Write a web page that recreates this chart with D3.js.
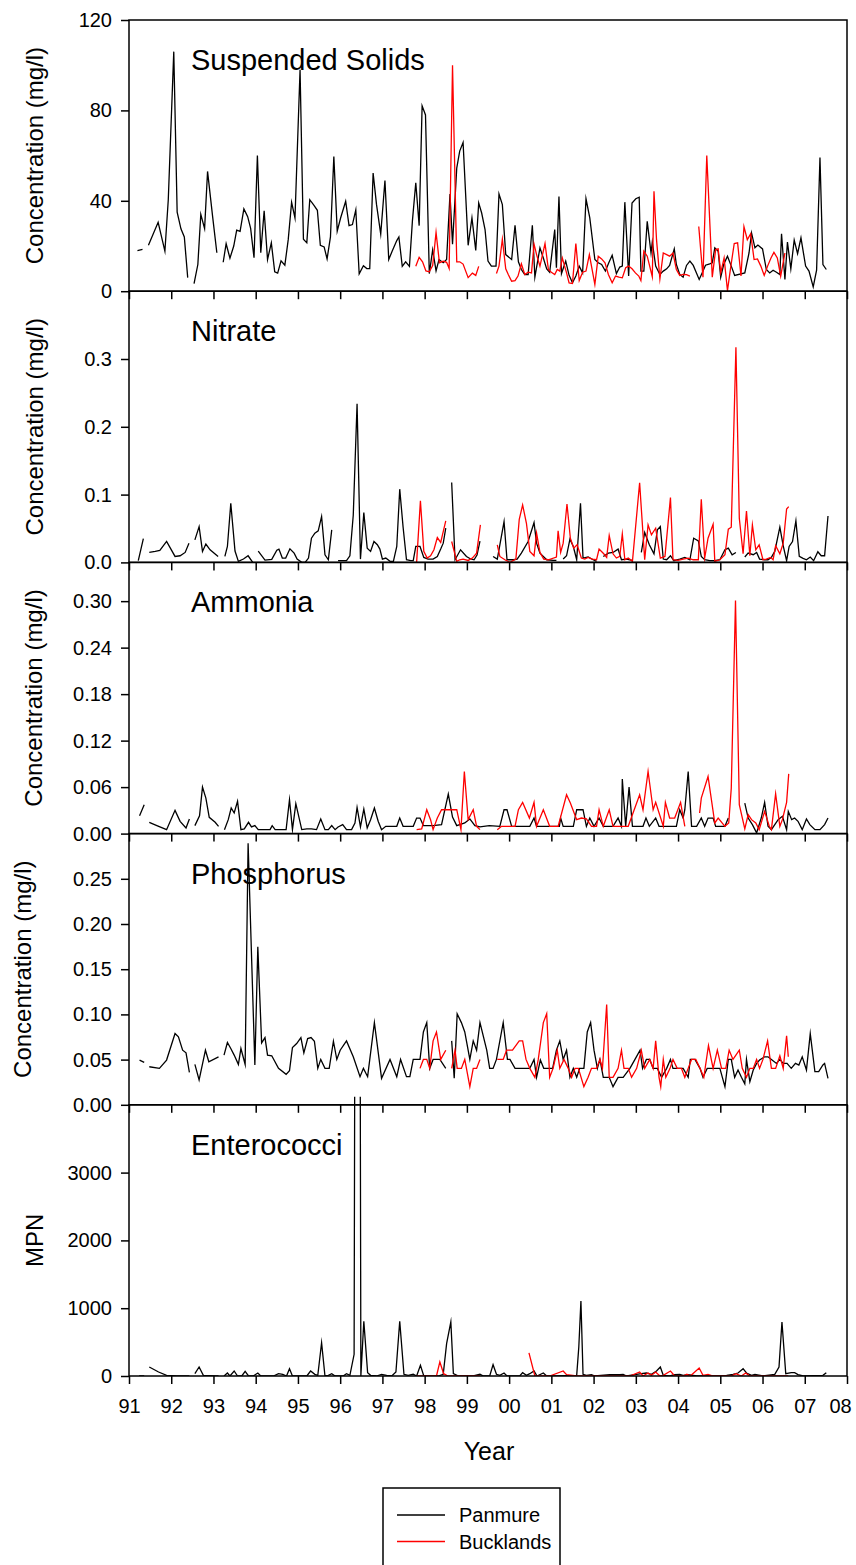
<!DOCTYPE html>
<html><head><meta charset="utf-8">
<script src="https://cdn.jsdelivr.net/npm/d3@7"></script>
<style>
html,body{margin:0;padding:0;background:#fff;}
svg{display:block;font-family:"Liberation Sans",Arial,sans-serif;}
</style></head>
<body>
<svg id="chart" width="856" height="1565"></svg>
<script>
// ---------------- DATA ----------------
const yearTicks = [1991,1992,1993,1994,1995,1996,1997,1998,1999,2000,2001,2002,2003,2004,2005,2006,2007,2008];
const yearLabels = ["91","92","93","94","95","96","97","98","99","00","01","02","03","04","05","06","07","08"];
const seriesNames = ["Panmure","Bucklands"];
const panelTitles = ["Suspended Solids","Nitrate","Ammonia","Phosphorus","Enterococci"];
const axisTitles = ["Concentration (mg/l)","Concentration (mg/l)","Concentration (mg/l)","Concentration (mg/l)","MPN"];
const yMaxima = [120, 0.4, 0.35, 0.30, 4000];
const yTickValues = [[0,40,80,120],[0,0.1,0.2,0.3],[0,0.06,0.12,0.18,0.24,0.30],[0,0.05,0.10,0.15,0.20,0.25],[0,1000,2000,3000]];
const yTickFormats = ["d",".1f",".2f",".2f","d"];

// [decimal year, value]; null = gap in record
const ssPanmure = [[1991.20,18],[1991.32,18.5],null,
[1991.46,20.3],[1991.69,30.5],[1991.85,17.7],[1991.93,40.5],[1992.06,106],[1992.14,35],[1992.23,27.6],[1992.31,24],[1992.39,6],null,
[1992.54,3.4],[1992.63,11.8],[1992.70,34],[1992.79,27.7],[1992.86,53],[1992.98,33],[1993.08,17],null,
[1993.23,12.8],[1993.30,21],[1993.39,14.6],[1993.48,20],[1993.55,27],[1993.63,26.5],[1993.72,36.4],[1993.81,33],[1993.88,27.8],[1993.96,14.8],[1994.04,60],[1994.12,17],[1994.20,35.6],[1994.28,14],[1994.37,21.4],[1994.45,8.6],[1994.52,8],[1994.60,13.4],[1994.69,11.5],[1994.77,22.8],[1994.85,39.3],[1994.93,32.4],[1995.05,98],[1995.13,23],[1995.21,21.4],[1995.28,40.5],[1995.38,38],[1995.46,35.8],[1995.53,20.3],[1995.62,19.6],[1995.69,14.3],[1995.77,24],[1995.85,59.6],[1995.93,26.6],[1996.01,32.4],[1996.13,39.8],[1996.21,29],[1996.29,29.5],[1996.37,36],[1996.45,7.7],[1996.55,11.3],[1996.63,10],[1996.70,10],[1996.78,52.3],[1996.86,38.4],[1996.96,25.3],[1997.06,49],[1997.15,14],[1997.23,17.7],[1997.34,22.4],[1997.39,24],[1997.47,11],[1997.55,13],[1997.64,11],[1997.71,31],[1997.79,48],[1997.87,29],[1997.94,82],[1998.02,78],[1998.11,7.8],[1998.19,18.3],[1998.27,9],[1998.34,14],[1998.44,12.6],[1998.52,14],[1998.60,43],[1998.66,20.8],[1998.76,54.5],[1998.83,62],[1998.91,65.8],[1999.03,20.3],[1999.12,32.4],[1999.21,18],[1999.28,39],[1999.35,34.6],[1999.43,27.3],[1999.50,13.3],[1999.58,11.1],[1999.69,11.1],[1999.76,43],[1999.84,38.3],[1999.92,16.2],[2000.06,14],[2000.14,29.2],[2000.22,13],[2000.29,9.6],[2000.37,7.4],[2000.45,7.4],[2000.55,29.2],[2000.61,6.2],[2000.73,19.2],[2000.81,14.7],[2000.89,9.9],[2000.96,8.4],[2001.08,27.3],[2001.12,10.4],[2001.18,41.9],[2001.24,7.8],[2001.34,13.3],[2001.42,7],[2001.50,3.7],[2001.58,6.7],[2001.66,11.1],[2001.74,8.1],[2001.82,40.9],[2001.91,32.4],[2002.03,14],[2002.11,12.6],[2002.19,11.8],[2002.28,8.9],[2002.36,12.6],[2002.44,15.9],[2002.54,7.8],[2002.62,10.7],[2002.68,11.1],[2002.74,39.4],[2002.83,6.7],[2002.91,39],[2003.00,40.9],[2003.08,41.6],[2003.12,8.9],[2003.19,8.9],[2003.27,30.9],[2003.36,16.9],[2003.39,21.7],[2003.47,11.1],[2003.57,7.4],[2003.65,8.9],[2003.73,9.9],[2003.80,11.4],[2003.91,18.7],[2003.96,11.8],[2004.04,7.4],[2004.12,6.2],[2004.20,11.4],[2004.28,13.3],[2004.36,11.4],[2004.50,5.2],[2004.57,8.1],[2004.65,11.5],[2004.75,12.1],[2004.81,12.6],[2004.87,19.2],[2004.95,17.7],[2005.01,6.2],[2005.08,11.8],[2005.17,15.5],[2005.26,11.1],[2005.34,7],[2005.58,8.1],[2005.68,16.9],[2005.74,25.8],[2005.82,19.2],[2005.89,20.4],[2006.00,18.7],[2006.09,9.6],[2006.17,8.1],[2006.25,9.3],[2006.33,8.4],[2006.41,7.4],[2006.45,25.4],[2006.53,5.2],[2006.59,21.7],[2006.67,9.9],[2006.75,22.6],[2006.83,16.6],[2006.91,23.6],[2007.02,11.1],[2007.10,8.9],[2007.20,1.9],[2007.28,9.3],[2007.36,59.2],[2007.43,11.8],[2007.51,9.6]];

const ssBucklands = [[1997.79,11],[1997.87,15],[1997.95,13],[1998.03,9],[1998.11,8.6],[1998.19,11.3],[1998.27,26],[1998.35,12.6],[1998.44,13.3],[1998.52,12.8],[1998.58,10],[1998.66,100],[1998.76,13],[1998.83,13],[1998.91,12],[1999.03,6],[1999.13,8],[1999.21,7],[1999.28,11],null,
[1999.70,7.8],[1999.76,11.1],[1999.84,23.0],[1999.92,9.9],[1999.98,7.4],[2000.06,4.4],[2000.14,4.7],[2000.21,6.7],[2000.29,12.1],[2000.37,7.4],[2000.45,8.4],[2000.53,8.1],[2000.59,20.9],[2000.65,16.2],[2000.73,11.1],[2000.85,21.1],[2000.93,9.6],[2001.00,8.4],[2001.08,7.4],[2001.14,9.6],[2001.20,8.9],[2001.26,14.7],[2001.36,8.1],[2001.42,3.7],[2001.50,3.4],[2001.58,21.1],[2001.66,4.7],[2001.74,8.4],[2001.82,8.9],[2001.90,16.2],[2002.03,3.0],[2002.11,15.5],[2002.19,14.3],[2002.27,12.6],[2002.35,7.4],[2002.44,3.7],[2002.52,6.7],[2002.60,6.2],[2002.68,5.9],[2002.76,10.4],[2002.83,11.1],[2002.91,9.9],[2002.99,8.1],[2003.07,6.7],[2003.12,4.7],[2003.19,17.7],[2003.27,15.5],[2003.39,6.4],[2003.43,44.2],[2003.49,22.8],[2003.57,5.4],[2003.65,16.9],[2003.73,16.2],[2003.80,15.5],[2003.88,16.9],[2003.96,9.6],[2004.04,7.0],[2004.12,7.4],[2004.20,7.3],[2004.28,6.7],null,
[2004.49,28.6],[2004.59,6.2],[2004.68,60],[2004.81,6.2],[2004.89,18.4],[2004.95,18.7],[2005.01,8.1],[2005.09,14.7],[2005.17,0.3],[2005.25,11.1],[2005.33,21.1],[2005.41,21.4],[2005.49,6.7],[2005.56,28.6],[2005.64,22.8],[2005.72,25.4],[2005.80,14.0],[2005.88,14.3],[2005.96,11.1],[2006.04,7.0],[2006.12,11.1],[2006.20,14.7],[2006.27,17.2],[2006.35,14.7],[2006.43,6.7],[2006.53,16.9]];

const no3Panmure = [[1991.22,0.0025],[1991.34,0.035],null,
[1991.48,0.0147],[1991.62,0.0162],[1991.73,0.0176],[1991.89,0.031],[1992.09,0.0088],[1992.21,0.0098],[1992.33,0.0147],[1992.42,0.0284],null,
[1992.56,0.0333],[1992.66,0.0528],[1992.74,0.0162],[1992.82,0.027],[1992.92,0.0186],[1993.11,0.0088],null,
[1993.27,0.0088],[1993.33,0.0235],[1993.41,0.0871],[1993.51,0.0167],[1993.59,0.0015],[1993.71,0.005],[1993.82,0.0098],[1993.93,0],null,
[1994.06,0.0167],[1994.22,0.0035],[1994.38,0.0045],[1994.50,0.0181],[1994.55,0.0196],[1994.63,0.0064],[1994.71,0.0064],[1994.81,0.0201],[1994.91,0.0137],[1994.98,0.0049],[1995.09,0],[1995.17,0],[1995.25,0.0064],[1995.32,0.0357],[1995.40,0.0431],[1995.48,0.0465],[1995.56,0.0676],[1995.64,0.0113],[1995.72,0.0039],[1995.80,0.048],null,
[1995.95,0.0025],[1996.15,0.0025],[1996.23,0.0098],[1996.31,0.07],[1996.40,0.2339],[1996.48,0.0049],[1996.56,0.0734],[1996.64,0.0211],[1996.72,0.0162],[1996.80,0.0308],[1996.88,0.026],[1996.94,0.0196],[1997.00,0.0049],[1997.08,0.0064],[1997.18,0.0015],[1997.26,0.0015],[1997.34,0.0235],[1997.41,0.108],[1997.49,0.0518],[1997.57,0.0039],[1997.67,0.0025],[1997.73,0.0025],[1997.79,0.0235],[1997.89,0.0235],[1997.98,0.0074],[1998.08,0.0049],[1998.20,0.0049],[1998.30,0.0088],[1998.38,0.0196],[1998.44,0.0284],[1998.50,0.0504],null,
[1998.64,0.1178],[1998.72,0.0039],[1998.85,0.0186],[1998.99,0.0088],[1999.09,0.005],[1999.17,0.0039],[1999.24,0.0108],[1999.31,0.0313],null,
[1999.62,0.0088],[1999.72,0.0049],[1999.88,0.0602],[1999.95,0.0039],[2000.10,0.0039],[2000.19,0.0049],[2000.29,0.0137],[2000.45,0.0308],[2000.59,0.0587],[2000.65,0.0284],[2000.73,0.0137],[2000.89,0.0039],[2001.04,0.0029],[2001.12,0.0029],null,
[2001.28,0.0049],[2001.36,0.0098],[2001.44,0.0343],[2001.52,0.0235],[2001.60,0.0039],[2001.69,0.0871],[2001.75,0.0064],[2001.87,0.0079],[2001.99,0.0039],[2002.07,0.0015],null,
[2002.23,0.0088],[2002.35,0.0137],[2002.46,0.0147],[2002.58,0.0196],[2002.66,0.0039],[2002.78,0.0049],[2002.92,0.0029],null,
[2003.13,0.0147],[2003.21,0.0441],[2003.32,0.0259],[2003.43,0.0127],[2003.51,0.048],[2003.58,0.0529],[2003.65,0.0049],[2003.73,0.0039],[2003.82,0.0098],[2003.90,0.0025],[2004.04,0.0049],[2004.16,0.0074],[2004.28,0.0039],[2004.37,0.0357],[2004.48,0.0318],[2004.55,0.0088],[2004.63,0.0039],[2004.75,0.0025],[2004.87,0.0025],[2004.99,0.0039],[2005.11,0.0186],[2005.19,0.0211],[2005.28,0.0113],[2005.37,0.0147],null,
[2005.58,0.0079],[2005.66,0.0137],[2005.78,0.0113],[2005.86,0.0147],[2005.93,0.0049],[2006.05,0.0039],[2006.13,0.0039],[2006.21,0.0074],[2006.29,0.0162],[2006.41,0.0519],[2006.49,0.0245],[2006.57,0.0025],[2006.63,0.0235],[2006.71,0.0308],[2006.79,0.0612],[2006.87,0.0088],[2006.96,0.0059],[2007.04,0.0039],[2007.13,0.0079],[2007.21,0.0025],[2007.31,0.0157],[2007.39,0.0098],[2007.47,0.0098],[2007.55,0.0685]];

const no3Bucklands = [[1997.81,0],[1997.90,0.091],[1997.98,0.0162],[1998.06,0.0064],[1998.14,0.0098],[1998.22,0.0186],[1998.30,0.0367],[1998.38,0.0294],[1998.50,0.0611],null,
[1998.64,0.0308],[1998.76,0.0015],[1998.83,0.0039],[1998.91,0.0049],[1999.03,0.0029],[1999.13,0.0064],[1999.23,0.0137],[1999.32,0.0553],null,
[1999.72,0.026],[1999.78,0.0088],[1999.90,0.0039],[2000.02,0],[2000.16,0.0049],[2000.24,0.0636],[2000.32,0.0847],[2000.41,0.0577],[2000.49,0.0162],[2000.59,0.0098],[2000.65,0.0431],[2000.73,0.0147],[2000.82,0.0049],[2000.93,0.0039],[2001.12,0.0079],[2001.16,0.0466],[2001.22,0.0147],[2001.28,0.0284],[2001.37,0.0861],[2001.45,0.0357],[2001.53,0.0211],[2001.61,0.026],[2001.71,0.0064],[2001.79,0.0049],[2001.87,0.0074],[2001.97,0.0049],[2002.07,0.0039],[2002.13,0.0196],[2002.24,0.0127],[2002.31,0.0074],[2002.37,0.0397],[2002.46,0.0127],[2002.54,0.0064],[2002.62,0.0088],[2002.68,0.0421],[2002.74,0.0039],[2002.82,0.0064],[2002.92,0.0015],[2003.09,0.1174],[2003.21,0.0039],[2003.29,0.0553],[2003.37,0.0406],[2003.47,0.0504],[2003.58,0.0064],[2003.69,0.0088],[2003.82,0.0955],[2003.88,0.0039],[2004.00,0.0029],[2004.12,0.0049],[2004.24,0.0064],[2004.36,0.0039],[2004.48,0.0039],[2004.55,0.093],[2004.63,0.0064],[2004.71,0.0357],[2004.83,0.0563],[2004.87,0.0015],[2004.99,0.0039],[2005.11,0.0113],[2005.19,0.049],[2005.26,0.0519],[2005.37,0.3172],[2005.45,0.0651],[2005.54,0.0127],[2005.62,0.0759],[2005.70,0.0098],[2005.76,0.0553],[2005.84,0.0186],[2005.92,0.026],[2006.01,0.0039],[2006.09,0.0049],[2006.19,0.0074],[2006.25,0.0039],[2006.31,0.0245],[2006.41,0.0127],[2006.49,0.0284],[2006.57,0.0788],[2006.62,0.0822]];

const nh3Panmure = [[1991.25,0.0231],[1991.36,0.0373],null,
[1991.48,0.0146],[1991.66,0.0103],[1991.89,0.0051],[1992.09,0.03],[1992.21,0.0158],[1992.35,0.0073],[1992.43,0.0189],null,
[1992.56,0.0103],[1992.67,0.0231],[1992.74,0.06],[1992.82,0.0458],[1992.90,0.021],[1993.04,0.0146],[1993.12,0.0094],null,
[1993.26,0.0051],[1993.35,0.018],[1993.42,0.033],[1993.49,0.0266],[1993.57,0.0416],[1993.65,0.0051],[1993.73,0.006],[1993.83,0.0146],[1993.90,0.0086],[1993.98,0.0103],[1994.06,0.0051],[1994.34,0.0051],[1994.39,0.0103],[1994.46,0.0051],[1994.72,0.0051],[1994.80,0.0437],[1994.87,0.0051],[1994.95,0.0386],[1995.09,0.0051],[1995.21,0.006],[1995.32,0.006],[1995.44,0.0051],[1995.54,0.0189],[1995.64,0.0051],[1995.72,0.0051],[1995.80,0.0103],[1995.88,0.0051],[1995.95,0.0086],[1996.06,0.0116],[1996.15,0.0051],[1996.27,0.0051],[1996.35,0.0137],[1996.40,0.0338],[1996.48,0.0086],[1996.56,0.0317],[1996.64,0.0073],[1996.72,0.018],[1996.81,0.033],[1996.90,0.0159],[1996.98,0.0051],[1997.08,0.0094],[1997.34,0.0094],[1997.41,0.0201],[1997.49,0.0094],[1997.73,0.0094],[1997.81,0.0201],[1997.89,0.0201],[1997.97,0.0103],[1998.20,0.0103],[1998.40,0.0116],[1998.56,0.051],[1998.66,0.0214],[1998.76,0.0103],[1998.95,0.0137],[1999.07,0.0189],[1999.19,0.0103],[1999.31,0.0086],[1999.53,0.0103],[1999.78,0.0094],[1999.88,0.0308],[1999.95,0.0308],[2000.06,0.0094],[2000.49,0.0094],[2000.59,0.0201],[2000.65,0.0094],[2001.19,0.0094],[2001.22,0.0201],[2001.28,0.0094],[2001.52,0.0094],[2001.60,0.0308],[2001.75,0.0308],[2001.83,0.0094],[2001.91,0.0201],[2002.01,0.0094],[2002.13,0.0201],[2002.23,0.0094],[2002.46,0.0094],[2002.58,0.0201],[2002.66,0.0094],[2002.68,0.0703],[2002.76,0.0094],[2002.84,0.06],[2002.92,0.0094],[2003.17,0.0094],[2003.24,0.0201],[2003.32,0.0094],[2003.47,0.0201],[2003.55,0.0094],[2003.96,0.0094],[2004.04,0.0308],[2004.12,0.0201],[2004.16,0.0308],[2004.24,0.0801],[2004.32,0.0094],[2004.44,0.0094],[2004.55,0.0201],[2004.63,0.0094],[2004.71,0.0201],[2004.83,0.0201],[2004.89,0.0094],[2005.11,0.0094],[2005.19,0.0201],null,
[2005.58,0.0394],[2005.66,0.0201],[2005.76,0.0116],[2005.86,0.0009],[2005.97,0.0201],[2006.05,0.0403],[2006.13,0.0094],[2006.21,0.0051],[2006.29,0.0116],[2006.37,0.018],[2006.47,0.0223],[2006.57,0.0051],[2006.61,0.0287],[2006.69,0.018],[2006.76,0.0201],[2006.84,0.0159],[2006.94,0.0051],[2007.04,0.0189],[2007.12,0.0116],[2007.24,0.0051],[2007.36,0.0051],[2007.47,0.0116],[2007.55,0.0201]];

const nh3Bucklands = [[1997.81,0.0051],[1997.93,0.006],[1998.05,0.0308],[1998.14,0.018],[1998.20,0.0051],[1998.30,0.0201],[1998.40,0.0308],[1998.60,0.0308],[1998.76,0.0308],[1998.86,0.0051],[1998.94,0.0801],[1999.03,0.018],[1999.15,0.0308],[1999.23,0.0094],[1999.31,0.0051],null,
[1999.72,0.0051],[1999.82,0.0094],[2000.14,0.0094],[2000.22,0.0308],[2000.32,0.0403],[2000.48,0.0201],[2000.59,0.0403],[2000.65,0.0094],[2000.81,0.0308],[2000.96,0.0094],[2001.16,0.0094],[2001.36,0.0501],[2001.45,0.0394],[2001.60,0.018],[2001.71,0.0201],[2001.83,0.0189],[2001.95,0.0094],[2002.07,0.0094],[2002.13,0.0308],[2002.23,0.0094],[2002.37,0.0308],[2002.46,0.0094],[2002.82,0.0094],[2003.09,0.0501],[2003.17,0.0308],[2003.29,0.0801],[2003.41,0.0308],[2003.47,0.0403],[2003.65,0.0094],[2003.70,0.0403],[2003.80,0.0201],[2003.92,0.0201],[2004.06,0.0403],[2004.16,0.0094],null,
[2004.51,0.0266],[2004.55,0.0458],[2004.71,0.0737],[2004.87,0.0137],[2004.95,0.0201],[2005.11,0.0094],[2005.20,0.0137],[2005.26,0.0587],[2005.36,0.3007],[2005.45,0.0373],[2005.58,0.006],[2005.66,0.0244],[2005.74,0.018],[2005.84,0.0137],[2005.92,0.0051],[2006.05,0.0287],[2006.16,0.0094],[2006.21,0.0051],[2006.31,0.0514],[2006.41,0.0094],[2006.47,0.018],[2006.57,0.0403],[2006.62,0.0771]];

const tpPanmure = [[1991.25,0.0495],[1991.36,0.0469],null,
[1991.48,0.0421],[1991.72,0.0403],[1991.89,0.0495],[1992.09,0.0788],[1992.17,0.0751],[1992.27,0.0604],[1992.35,0.0575],[1992.43,0.0359],null,
[1992.56,0.0447],[1992.66,0.0275],[1992.81,0.0604],[1992.89,0.0476],[1993.12,0.0531],null,
[1993.25,0.055],[1993.33,0.0689],[1993.41,0.0623],[1993.49,0.055],[1993.59,0.0447],[1993.65,0.0623],[1993.75,0.0447],[1993.82,0.2894],[1993.98,0.044],[1994.05,0.1747],[1994.14,0.0685],[1994.22,0.0744],[1994.28,0.055],[1994.38,0.0542],[1994.54,0.0403],[1994.72,0.0337],[1994.80,0.0378],[1994.87,0.0634],[1994.97,0.0678],[1995.07,0.0744],[1995.14,0.0575],[1995.23,0.0733],[1995.31,0.0744],[1995.39,0.0703],[1995.47,0.0403],[1995.54,0.0502],[1995.64,0.0403],[1995.74,0.0403],[1995.84,0.0703],[1995.92,0.0502],[1996.00,0.0604],[1996.15,0.0707],[1996.31,0.0531],[1996.47,0.0311],[1996.55,0.0403],[1996.65,0.0311],[1996.81,0.0909],[1996.98,0.0293],[1997.18,0.0502],[1997.34,0.0311],[1997.43,0.0502],[1997.57,0.0311],[1997.65,0.0311],[1997.73,0.0502],[1997.89,0.0502],[1997.97,0.0806],[1998.05,0.0909],[1998.12,0.0403],[1998.20,0.0502],[1998.36,0.0502],[1998.50,0.0403],null,
[1998.64,0.0707],[1998.70,0.0293],[1998.77,0.1007],[1998.87,0.0909],[1998.95,0.0806],[1999.07,0.0502],[1999.15,0.0707],[1999.23,0.0604],[1999.31,0.0909],[1999.47,0.0604],[1999.54,0.0403],[1999.62,0.0403],[1999.70,0.0502],[1999.86,0.0909],[1999.96,0.0502],[2000.02,0.0502],[2000.14,0.0403],[2000.26,0.0403],[2000.49,0.0403],[2000.59,0.0502],[2000.65,0.0304],[2000.74,0.0495],[2000.82,0.0403],[2000.90,0.0403],[2001.03,0.0403],[2001.12,0.0604],[2001.20,0.0707],[2001.28,0.0502],[2001.36,0.0604],[2001.44,0.0304],[2001.52,0.0403],[2001.60,0.0304],[2001.67,0.0403],[2001.77,0.0403],[2001.85,0.0806],[2001.93,0.0909],[2002.01,0.0604],[2002.09,0.0403],[2002.15,0.0502],[2002.23,0.0304],[2002.37,0.0304],[2002.46,0.0201],[2002.58,0.0304],[2002.70,0.0304],[2002.86,0.0403],[2002.98,0.0502],[2003.10,0.0604],[2003.16,0.0403],[2003.25,0.0502],[2003.33,0.0502],[2003.41,0.0403],[2003.51,0.0403],[2003.61,0.0304],[2003.73,0.0403],[2003.82,0.0502],[2003.88,0.0403],[2003.96,0.0403],[2004.12,0.0403],[2004.24,0.0304],[2004.29,0.0502],[2004.40,0.0502],[2004.52,0.0403],[2004.59,0.0304],[2004.69,0.0403],[2004.79,0.0403],[2004.99,0.0403],[2005.11,0.0201],[2005.19,0.0502],[2005.26,0.0502],[2005.34,0.0304],[2005.42,0.0385],[2005.50,0.0304],[2005.58,0.0231],[2005.62,0.0502],[2005.70,0.0256],[2005.78,0.0385],[2005.86,0.0458],[2005.93,0.0495],[2006.05,0.0531],[2006.13,0.0531],[2006.21,0.0502],[2006.33,0.0458],[2006.41,0.0502],[2006.49,0.0458],[2006.58,0.0458],[2006.68,0.0403],[2006.78,0.0458],[2006.86,0.044],[2006.94,0.0531],[2007.04,0.0385],[2007.13,0.0788],[2007.24,0.0367],[2007.33,0.0367],[2007.43,0.044],[2007.47,0.0458],[2007.55,0.0293]];

const tpBucklands = [[1997.89,0.0403],[1997.97,0.0502],[1998.05,0.0502],[1998.12,0.0403],[1998.20,0.0707],[1998.28,0.0806],[1998.38,0.0502],[1998.50,0.0604],null,
[1998.64,0.0403],[1998.72,0.0604],[1998.77,0.0403],[1998.87,0.0403],[1998.95,0.0502],[1999.07,0.0201],[1999.15,0.0403],[1999.23,0.0403],[1999.31,0.0502],null,
[1999.72,0.0502],[1999.86,0.0502],[1999.94,0.0604],[2000.08,0.0604],[2000.24,0.0707],[2000.32,0.0707],[2000.40,0.0502],[2000.49,0.0403],[2000.61,0.0304],[2000.69,0.0502],[2000.81,0.0909],[2000.89,0.1007],[2000.96,0.0304],[2001.04,0.0403],[2001.14,0.0604],[2001.20,0.0403],[2001.30,0.0502],[2001.40,0.0403],[2001.48,0.0304],[2001.56,0.0403],[2001.64,0.0403],[2001.77,0.0201],[2001.87,0.0304],[2001.95,0.0403],[2002.07,0.0403],[2002.15,0.0502],[2002.21,0.0403],[2002.31,0.111],[2002.37,0.0304],[2002.46,0.0304],[2002.58,0.0403],[2002.66,0.0604],[2002.72,0.0403],[2002.82,0.0403],[2002.90,0.0304],[2003.02,0.0403],[2003.13,0.0604],[2003.21,0.0403],[2003.33,0.0502],[2003.41,0.0403],[2003.47,0.0707],[2003.55,0.0304],[2003.59,0.0201],[2003.65,0.0502],[2003.71,0.0304],[2003.81,0.0403],[2003.88,0.0502],[2003.98,0.0403],[2004.08,0.0403],[2004.16,0.0304],[2004.24,0.0403],[2004.32,0.0502],[2004.42,0.0502],[2004.52,0.0403],[2004.61,0.0304],[2004.72,0.0656],[2004.83,0.0403],[2004.93,0.0604],[2005.03,0.0403],[2005.13,0.0403],[2005.21,0.0604],[2005.30,0.0502],[2005.45,0.0604],[2005.52,0.0403],[2005.62,0.0304],[2005.70,0.0403],[2005.78,0.0403],[2005.86,0.0502],[2005.93,0.0403],[2006.01,0.0502],[2006.12,0.0707],[2006.21,0.0403],[2006.31,0.0403],[2006.41,0.0542],[2006.49,0.0403],[2006.57,0.0762],[2006.61,0.0531]];

// the 1996 Enterococci result is far off the scale (clipped at the axis top)
const entPanmure = [[1991.24,0],[1991.36,0],null,
[1991.48,133],[1991.70,59],[1991.89,10],[1992.13,0],[1992.37,0],[1992.43,0],null,
[1992.56,34],[1992.66,133],[1992.76,10],[1993.04,0],[1993.12,0],null,
[1993.25,0],[1993.33,44],[1993.39,0],[1993.49,74],[1993.57,0],[1993.67,0],[1993.75,69],[1993.83,0],[1993.94,0],[1994.05,44],[1994.12,0],[1994.26,0],[1994.42,0],[1994.54,34],[1994.64,25],[1994.73,0],[1994.80,108],[1994.87,0],[1995.05,0],[1995.21,0],[1995.30,74],[1995.40,25],[1995.47,10],[1995.56,492],[1995.64,0],[1995.72,10],[1995.80,34],[1995.88,0],[1996.07,0],[1996.15,34],[1996.23,10],[1996.33,320],[1996.37,12000],[1996.45,12000],[1996.49,0],[1996.56,807],[1996.65,49],[1996.72,10],[1996.86,0],[1996.98,25],[1997.10,10],[1997.22,0],[1997.32,59],[1997.41,807],[1997.51,25],[1997.61,10],[1997.73,25],[1997.81,0],[1997.90,158],[1997.98,0],[1998.32,0],[1998.44,25],[1998.52,477],[1998.62,797],[1998.68,34],[1998.80,0],[1999.15,0],[1999.31,25],[1999.39,0],[1999.54,0],[1999.62,167],[1999.70,25],[1999.78,10],[1999.88,44],[1999.95,0],[2000.25,0],[2000.32,49],[2000.41,10],[2000.49,34],[2000.59,74],[2000.66,0],[2000.81,44],[2000.89,0],[2001.04,0],[2001.60,10],[2001.65,428],[2001.70,1106],[2001.75,25],[2001.83,10],[2001.95,20],[2002.03,0],[2002.38,20],[2002.62,20],[2002.70,25],[2002.78,0],[2003.02,25],[2003.13,34],[2003.25,44],[2003.37,25],[2003.49,74],[2003.58,133],[2003.65,10],[2003.80,0],[2003.92,20],[2004.04,25],[2004.12,10],[2004.24,20],[2004.44,0],[2004.99,0],[2005.15,10],[2005.30,25],[2005.42,44],[2005.54,108],[2005.62,44],[2005.74,10],[2005.82,25],[2006.01,0],[2006.29,25],[2006.39,133],[2006.46,797],[2006.55,34],[2006.68,49],[2006.76,49],[2006.84,20],[2006.96,0],[2007.43,10],[2007.51,49]];

const entBucklands = [[1997.81,0],[1998.28,0],[1998.36,207],[1998.45,34],[1998.55,0],[1999.31,0],null,
[2000.47,340],[2000.61,0],[2000.96,0],[2001.28,74],[2001.36,20],[2001.60,0],[2002.86,0],[2003.09,59],[2003.17,0],[2003.29,44],[2003.37,10],[2003.47,59],[2003.57,0],[2003.65,10],[2003.82,74],[2003.92,0],[2004.12,0],[2004.21,25],[2004.29,0],[2004.50,118],[2004.59,10],[2004.71,25],[2004.83,0],[2005.26,0],[2005.37,34],[2005.50,0],[2005.60,44],[2005.70,0],[2006.33,0],[2006.61,0]];

const panelData = [
  [ssPanmure, ssBucklands],
  [no3Panmure, no3Bucklands],
  [nh3Panmure, nh3Bucklands],
  [tpPanmure, tpBucklands],
  [entPanmure, entBucklands]
];

// ---------------- LAYOUT ----------------
const FONT = '"Liberation Sans", Arial, sans-serif';
const left = 129, right = 847, top0 = 20, panelH = 271.2;
const colors = ["#000000", "#ff0000"];
const axisTitleX = [34, 34, 33, 22, 34];

const svg = d3.select("#chart");
const defs = svg.append("defs");
const x = d3.scaleLinear().domain([1991, 2008]).range([left, right]);

panelTitles.forEach((title, i) => {
  const top = top0 + i * panelH, bottom = top + panelH;
  const y = d3.scaleLinear().domain([0, yMaxima[i]]).range([bottom, top]);
  const g = svg.append("g");

  // clip slightly above the panel so off-scale values are cut like the original
  defs.append("clipPath").attr("id", "clip" + i)
    .append("rect").attr("x", left).attr("y", top - 8).attr("width", right - left).attr("height", panelH + 8);

  const line = d3.line().defined(d => d !== null).x(d => x(d[0])).y(d => y(d[1]));
  const lines = g.append("g").attr("clip-path", `url(#clip${i})`);
  panelData[i].forEach((ser, s) => {
    lines.append("path").datum(ser).attr("d", line)
      .attr("fill", "none").attr("stroke", colors[s])
      .attr("stroke-width", 1.3).attr("stroke-linejoin", "miter").attr("stroke-miterlimit", 10);
  });

  // frame
  g.append("rect").attr("x", left).attr("y", top).attr("width", right - left).attr("height", panelH)
    .attr("fill", "none").attr("stroke", "#000").attr("stroke-width", 1.5);

  // y axis
  const yAx = g.append("g").attr("transform", `translate(${left},0)`)
    .call(d3.axisLeft(y).tickValues(yTickValues[i]).tickFormat(d3.format(yTickFormats[i]))
      .tickSize(8).tickSizeOuter(0).tickPadding(9));
  yAx.select(".domain").remove();
  yAx.selectAll("line").attr("stroke", "#000").attr("stroke-width", 1.5);
  yAx.selectAll("text").attr("font-family", FONT).attr("font-size", 20).attr("fill", "#000");

  // x axis
  const isLast = i === panelTitles.length - 1;
  const xAx = g.append("g").attr("transform", `translate(0,${bottom})`)
    .call(d3.axisBottom(x).tickValues(yearTicks)
      .tickFormat((d, k) => isLast ? yearLabels[k] : "")
      .tickSize(8).tickSizeOuter(0).tickPadding(15));
  xAx.select(".domain").remove();
  xAx.selectAll("line").attr("stroke", "#000").attr("stroke-width", 1.5);
  xAx.selectAll("text").attr("font-family", FONT).attr("font-size", 20).attr("fill", "#000");
  // keep the last label ("08") inside the page
  xAx.selectAll("text").filter(d => d === yearTicks[yearTicks.length - 1]).attr("dx", -7);

  // panel title
  g.append("text").attr("x", 191).attr("y", top + 50)
    .attr("font-family", FONT).attr("font-size", 29).attr("fill", "#000").text(title);

  // y axis title
  g.append("text")
    .attr("transform", `translate(${axisTitleX[i]},${(top + bottom) / 2}) rotate(-90)`)
    .attr("text-anchor", "middle").attr("dominant-baseline", "central")
    .attr("font-family", FONT).attr("font-size", 24).attr("fill", "#000").text(axisTitles[i]);
});

// x axis title
svg.append("text").attr("x", 489).attr("y", 1460).attr("text-anchor", "middle")
  .attr("font-family", FONT).attr("font-size", 25).attr("fill", "#000").text("Year");

// legend
const lg = svg.append("g");
lg.append("rect").attr("x", 383).attr("y", 1488).attr("width", 177).attr("height", 100)
  .attr("fill", "#fff").attr("stroke", "#000").attr("stroke-width", 1.5);
seriesNames.forEach((name, s) => {
  const ly = 1515 + s * 26.5;
  lg.append("line").attr("x1", 397).attr("x2", 445).attr("y1", ly).attr("y2", ly)
    .attr("stroke", colors[s]).attr("stroke-width", 1.5);
  lg.append("text").attr("x", 459).attr("y", ly).attr("dominant-baseline", "central")
    .attr("font-family", FONT).attr("font-size", 20).attr("fill", "#000").text(name);
});
</script>
</body></html>
